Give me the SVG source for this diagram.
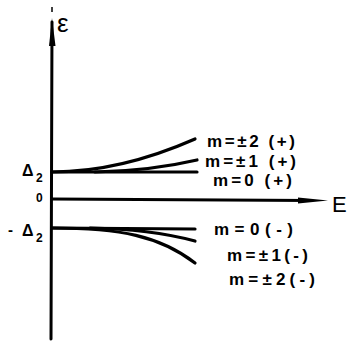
<svg xmlns="http://www.w3.org/2000/svg" width="347" height="345" viewBox="0 0 347 345">
<style>
.ax{stroke:#000;stroke-width:3;fill:none;stroke-linecap:round}
.br{stroke:#000;stroke-width:3.2;fill:none;stroke-linecap:round}
.lb{font-family:"Liberation Sans",Arial,sans-serif;font-weight:bold;font-size:17px;fill:#000}
.ax-l{font-family:"Liberation Sans",Arial,sans-serif;fill:#000}
</style>
<rect width="347" height="345" fill="#fff"/>
<g id="axes">
<line class="ax" x1="52" y1="22" x2="51" y2="339"/>
<polygon points="52,18 55.5,46 49,46" fill="#000"/>
<line x1="52" y1="7" x2="52" y2="12" stroke="#000" stroke-width="1.5"/>
<line class="ax" x1="52" y1="199" x2="310" y2="200.5"/>
<polygon points="298,197.5 328,200.5 298,203.5" fill="#000"/>
<text class="ax-l" x="57" y="32" font-size="26">ε</text>
<text class="ax-l" x="332" y="212" font-size="22">E</text>
<text class="ax-l" x="22" y="176" font-size="16" font-weight="bold" textLength="13">Δ</text>
<text class="ax-l" x="36" y="182" font-size="12" font-weight="bold">2</text>
<text class="ax-l" x="36" y="202" font-size="12" font-weight="bold">0</text>
<text class="ax-l" x="8" y="235" font-size="15" font-weight="bold">-</text>
<text class="ax-l" x="22" y="236" font-size="16" font-weight="bold" textLength="13">Δ</text>
<text class="ax-l" x="36" y="242" font-size="12" font-weight="bold">2</text>
</g>
<g id="connectors">
<line class="br" x1="52" y1="172" x2="197" y2="172"/>
<path class="br" d="M52,172 Q120,172 195,139"/>
<path class="br" d="M95,172 Q150,171 197,160"/>
<line class="br" x1="52" y1="228" x2="195" y2="229" stroke-width="4"/>
<path class="br" d="M90,228 Q150,229 195,241"/>
<path class="br" d="M52,228 C120,228 160,236 195,263"/>
</g>
<g id="label-p2"><text class="lb" x="207" y="147" textLength="88">m=±2 (+)</text></g>
<g id="label-p1"><text class="lb" x="205" y="167" textLength="91">m=±1 (+)</text></g>
<g id="label-p0"><text class="lb" x="213" y="186" textLength="79">m=0 (+)</text></g>
<g id="label-m0"><text class="lb" x="214" y="235" textLength="79">m=0(-)</text></g>
<g id="label-m1"><text class="lb" x="227" y="261" textLength="81">m=±1(-)</text></g>
<g id="label-m2"><text class="lb" x="229" y="285" textLength="86">m=±2(-)</text></g>
</svg>
